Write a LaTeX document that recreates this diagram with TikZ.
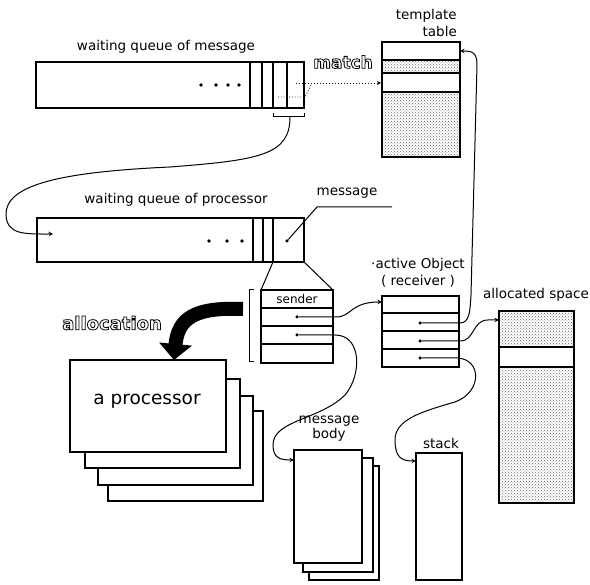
\documentclass[tikz,border=0pt]{standalone}
\usepackage{fontspec}
\setmainfont{DejaVu Sans}
\usetikzlibrary{arrows, arrows.meta, patterns}
\newcommand{\outlined}[1]{\special{pdf:literal direct 1 Tr 0.8 w}#1\special{pdf:literal direct 0 Tr}}

\begin{document}
\begin{tikzpicture}[
    x=1pt, y=-1pt,
    box/.style={draw, rectangle, inner sep=0pt, outer sep=0pt, anchor=north west, line width=1.2pt},
    sheet/.style={box, fill=white},
    ptrdot/.style={circle, fill, inner sep=0pt, minimum size=3.5pt},
    lbl/.style={font=\fontsize{13.5}{15}\selectfont, inner sep=0pt},
    shout/.style={font=\bfseries\fontsize{17}{19}\selectfont, inner sep=0pt},
    stipple/.style={pattern=crosshatch dots, pattern color=black!60},
    ptr/.style={->, >=stealth, line width=1pt},
    bigarrow/.style={-{Triangle[length=16pt,width=32pt]}, line width=14pt}
]
    \useasboundingbox (0,0) rectangle (590,585);

    % Shaded parts
    \path[stipple] (382,60) rectangle (460,73);
    \path[stipple] (382,92) rectangle (460,157);
    \path[stipple] (499,311) rectangle (574,347);
    \path[stipple] (499,367) rectangle (574,503);

    % Nodes
    \node[lbl] (mqlbl) at (166,47) {waiting queue of message};
    \node[box, minimum width=268pt, minimum height=46pt] (mq) at (36,62) {};
    \node[lbl, align=right, anchor=east, font=\fontsize{13.5}{17}\selectfont] (ttlbl) at (457,23) {template\\table};
    \node[box, minimum width=78pt, minimum height=115pt] (tt) at (382,42) {};
    \node[shout] (matchlbl) at (343,62) {\outlined{match}};

    \node[lbl] (pqlbl) at (176,200) {waiting queue of processor};
    \node[box, minimum width=267pt, minimum height=44pt] (pq) at (37,218) {};
    \node[lbl] (msglbl) at (347,193) {message};

    \node[box, minimum width=72pt, minimum height=73pt] (snd) at (261,290) {};
    \node[lbl, font=\fontsize{12}{14}\selectfont] (sndlbl) at (297,299) {sender};

    \node[lbl, align=center, font=\fontsize{13.5}{17}\selectfont] (aolbl) at (418,273) {·active Object\\( receiver )};
    \node[box, minimum width=77pt, minimum height=71pt] (ao) at (382,296) {};
    \node[lbl] (aslbl) at (536,295) {allocated space};
    \node[box, minimum width=75pt, minimum height=192pt] (as) at (499,311) {};

    \node[shout, font=\bfseries\fontsize{18}{20}\selectfont] (alloclbl) at (112,323) {\outlined{allocation}};
    \node[sheet, minimum width=155pt, minimum height=90pt] (proc4) at (108,411) {};
    \node[sheet, minimum width=155pt, minimum height=89pt] (proc3) at (98,396) {};
    \node[sheet, minimum width=155pt, minimum height=89pt] (proc2) at (85,379) {};
    \node[sheet, minimum width=156pt, minimum height=92pt] (proc1) at (70,360) {};
    \node[font=\fontsize{18.5}{20}\selectfont, inner sep=0pt] (proclbl) at (147,401) {a processor};

    \node[lbl, align=center, font=\fontsize{13.5}{15}\selectfont] (mblbl) at (329,429) {message\\body};
    \node[sheet, minimum width=70pt, minimum height=114pt] (mb3) at (309,466) {};
    \node[sheet, minimum width=70pt, minimum height=114pt] (mb2) at (303,458) {};
    \node[sheet, minimum width=68pt, minimum height=113pt] (mb1) at (294,450) {};

    \node[lbl] (stklbl) at (441,443) {stack};
    \node[box, minimum width=46pt, minimum height=127pt] (stk) at (416,453) {};

    % Cells and rows
    \foreach \x in {250,262,273,287} \draw[line width=1.2pt] (\x,62) -- (\x,108);
    \foreach \x in {253,263,273} \draw[line width=1.2pt] (\x,218) -- (\x,262);
    \foreach \y in {60,73,92} \draw[line width=1.2pt] (382,\y) -- (460,\y);
    \foreach \y in {308,326,344} \draw[line width=1.2pt] (261,\y) -- (333,\y);
    \foreach \y in {313,331,349} \draw[line width=1.2pt] (382,\y) -- (459,\y);
    \foreach \y in {347,367} \draw[line width=1.2pt] (499,\y) -- (574,\y);
    \foreach \x in {201,216,228,239} \fill (\x,85) circle (1.8pt);
    \foreach \x in {209,227,242} \fill (\x,241) circle (1.8pt);

    % Pointers
    \node[ptrdot] (qd) at (287,241) {};
    \node[ptrdot] (sp1) at (297,317) {};
    \node[ptrdot] (sp2) at (297,335) {};
    \node[ptrdot] (a1) at (420,323) {};
    \node[ptrdot] (a2) at (420,341) {};
    \node[ptrdot] (a3) at (420,358) {};

    \coordinate (brk) at (290,117);
    \coordinate (pqin) at (53,234);
    \coordinate (ttin) at (460,51);
    \coordinate (ttrow) at (381,83);
    \coordinate (aoin) at (382,302);
    \coordinate (asin) at (499,320);
    \coordinate (mbin) at (294,460);
    \coordinate (stin) at (416,461);
    \coordinate (msgline) at (392,207);
    \coordinate (alloctail) at (243,309);
    \coordinate (allochead) at (174,360);

    % Brackets
    \draw[line width=1pt] (273,113) -- (273,117) -- (304,117) -- (304,113);
    \draw[line width=1pt] (254,290) -- (249,290) -- (249,362) -- (254,362);

    % Arrows
    \draw[ptr] (brk) .. controls (290,155) and (260,160) .. (170,167)
        .. controls (60,172) and (5,185) .. (6,215)
        .. controls (7,235) and (25,234) .. (pqin);
    \draw[ptr, dotted, line width=0.8pt] (296,83) -- (ttrow);
    \draw[dotted, line width=0.8pt] (278,97) -- (305,97) -- (311,85);
    \draw[line width=1pt] (qd) -- (317,207) -- (msgline);
    \draw[line width=1pt] (273,262) -- (snd.north west);
    \draw[line width=1pt] (pq.south east) -- (snd.north east);
    \draw[ptr] (sp1) -- (336,317) .. controls (352,317) and (350,302) .. (aoin);
    \draw[ptr] (sp2) -- (335,335) .. controls (362,335) and (362,375) .. (345,395)
        .. controls (320,420) and (273,420) .. (273,445)
        .. controls (273,458) and (280,460) .. (mbin);
    \draw[ptr] (a1) -- (460,323) .. controls (470,323) and (470,310) .. (471,295)
        -- (477,65) .. controls (477,52) and (472,51) .. (ttin);
    \draw[ptr] (a2) -- (460,341) .. controls (475,341) and (472,320) .. (488,320) -- (asin);
    \draw[ptr] (a3) -- (458,358) .. controls (482,360) and (482,392) .. (455,402)
        .. controls (420,412) and (395,420) .. (395,440)
        .. controls (395,458) and (402,461) .. (stin);
    \draw[bigarrow] (alloctail) .. controls (195,307) and (178,318) .. (allochead);
\end{tikzpicture}
\end{document}
